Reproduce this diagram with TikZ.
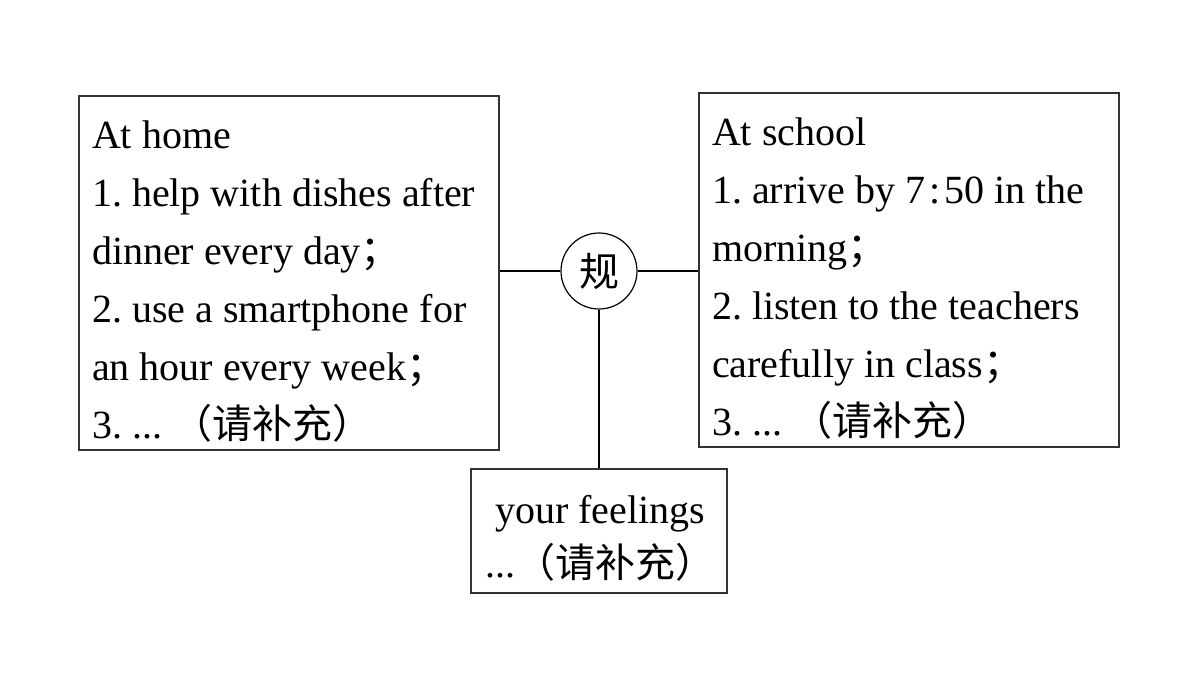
\documentclass[tikz,border=0pt]{standalone}
\usepackage{fontspec}
\setmainfont{Liberation Serif}
\newfontfamily\cjk{Noto Sans CJK SC}
\usepackage{tikz}
\usetikzlibrary{positioning}

\begin{document}
\begin{tikzpicture}[x=0.5pt, y=-0.5pt,
                box/.style={rectangle, draw=black!80, line width=0.6pt, align=left, inner ysep=0pt, font=\fontsize{20}{29}\selectfont,
                    execute at begin node={\frenchspacing\spaceskip=5pt plus 1pt minus 1pt\relax}},
                hub/.style={circle, draw=black, line width=0.6pt, minimum size=38pt, inner sep=0pt, font=\cjk\fontsize{20}{24}\selectfont},
                link/.style={draw=black, line width=0.6pt}]
                \useasboundingbox (0, 0) rectangle (1200, 675);
                \node[box, text width=197pt, inner xsep=6.5pt, text height=26pt, text depth=151pt] (home) at (289, 273) {At home\\1. help with dishes after\\dinner every day{\cjk ；}\\2. use a smartphone for\\an hour every week{\cjk ；}\\3. ...~{\cjk （请补充）}};
                \node[box, text width=197pt, inner xsep=6.5pt, text height=26pt, text depth=151pt] (school) at (909, 270) {At school\\1. arrive by 7\kern2pt:\kern2pt50 in the\\morning{\cjk ；}\\2. listen to the teachers\\carefully in class{\cjk ；}\\3. ...~{\cjk （请补充）}};
                \node[box, text width=114pt, inner xsep=7pt, text height=27pt, text depth=35pt, font=\fontsize{20}{27}\selectfont] (feel) at (599, 531) {\hspace*{5pt}your feelings\\...{\cjk （请补充）}};
                \node[hub] (rule) at (599, 271) {规};

                \draw[link] (rule.west) -- (rule.west -| home.east);
                \draw[link] (rule.east) -- (rule.east -| school.west);
                \draw[link] (rule.south) -- (feel.north);
            \end{tikzpicture}
\end{document}
